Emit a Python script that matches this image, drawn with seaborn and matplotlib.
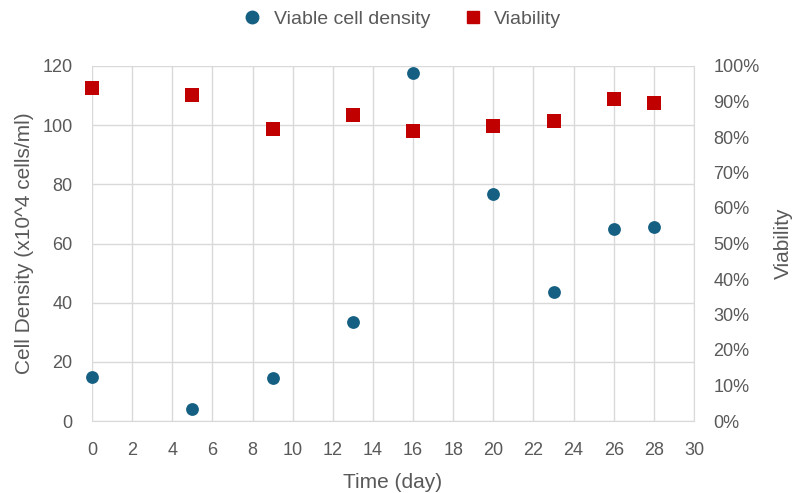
import matplotlib
matplotlib.use("Agg")
import matplotlib.pyplot as plt
import seaborn as sns
import pandas as pd
from matplotlib.ticker import PercentFormatter
from matplotlib.lines import Line2D

days = [0, 5, 9, 13, 16, 20, 23, 26, 28]
viable_density = [15.0, 4.1, 14.7, 33.4, 117.8, 76.8, 43.6, 65.0, 65.6]
viability = [93.8, 91.8, 82.2, 86.2, 81.8, 83.0, 84.6, 90.6, 89.5]

df = pd.DataFrame({"day": days, "vcd": viable_density, "via": viability})

sns.set_style("white")
plt.rcParams["font.family"] = ["Liberation Sans", "DejaVu Sans"]
grey = "#595959"
grid = "#d9d9d9"
blue = "#156082"
red = "#C00000"

fig = plt.figure(figsize=(7.94, 4.93), dpi=100)
ax = fig.add_axes([92/794, 1-421/493, (694-92)/794, (421-66)/493])
ax2 = ax.twinx()

sns.scatterplot(data=df, x="day", y="vcd", ax=ax, color=blue, s=85, marker="o",
                edgecolor=blue, linewidth=0, zorder=3, clip_on=False)
sns.scatterplot(data=df, x="day", y="via", ax=ax2, color=red, s=100, marker="s",
                edgecolor=red, linewidth=0, zorder=3, clip_on=False)

ax.set_xlim(0, 30)
ax.set_ylim(0, 120)
ax2.set_ylim(0, 100)
ax.set_xticks(range(0, 31, 2))
ax.set_yticks(range(0, 121, 20))
ax2.set_yticks(range(0, 101, 10))
ax2.yaxis.set_major_formatter(PercentFormatter(decimals=0))

ax.grid(True, color=grid, linewidth=1)
ax.set_axisbelow(True)
for a in (ax, ax2):
    for s in a.spines.values():
        s.set_visible(False)
    a.tick_params(length=0, colors=grey, labelsize=13)
ax.spines["bottom"].set_visible(True)
ax.spines["bottom"].set_color(grid)
ax.spines["right"].set_visible(True)
ax.spines["right"].set_color(grid)
ax.tick_params(axis="x", pad=15)
ax.tick_params(axis="y", pad=14)
ax2.tick_params(axis="y", pad=14)

ax.set_xlabel("Time (day)", color=grey, fontsize=15, labelpad=10)
ax.set_ylabel("Cell Density (x10^4 cells/ml)", color=grey, fontsize=15, labelpad=6)
ax2.set_ylabel("Viability", color=grey, fontsize=15, labelpad=10)

handles = [
    Line2D([], [], marker="o", color=blue, linestyle="none", markersize=9),
    Line2D([], [], marker="s", color=red, linestyle="none", markersize=9),
]
fig.legend(handles, ["Viable cell density", "Viability"], loc="center",
           bbox_to_anchor=(0.5, 1-19/493), ncol=2, frameon=False,
           fontsize=14, labelcolor=grey, handletextpad=0.1, columnspacing=1.2)

fig.savefig("out.png", dpi=100)
